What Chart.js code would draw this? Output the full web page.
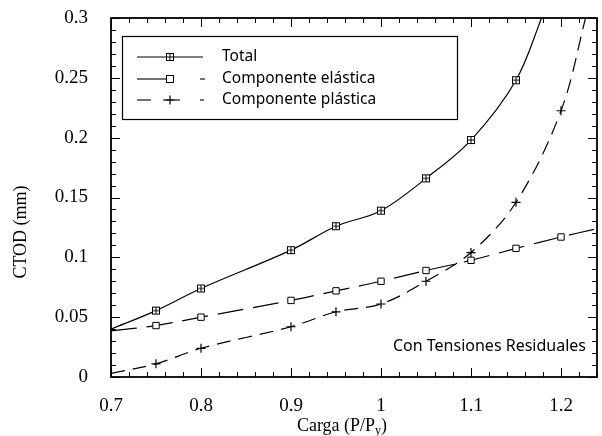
<!DOCTYPE html>
<html>
<head>
<meta charset="utf-8">
<script src="https://cdn.jsdelivr.net/npm/chart.js@4.4.1/dist/chart.umd.min.js"></script>
<style>
  html, body { margin: 0; padding: 0; background: #fff; }
  #wrap { width: 602px; height: 436px; }
</style>
</head>
<body>
<div id="wrap"><canvas id="myChart" width="602" height="436"></canvas></div>
<script>
// datos
let cargaTotal = [0.7, 0.75, 0.8, 0.9, 0.95, 1.0, 1.05, 1.1, 1.15, 1.18];
let ctodTotal = [0.040, 0.0555, 0.074, 0.106, 0.126, 0.139, 0.166, 0.198, 0.248, 0.303];
let cargaElastica = [0.7, 0.75, 0.8, 0.9, 0.95, 1.0, 1.05, 1.1, 1.15, 1.2, 1.24];
let ctodElastica = [0.0385, 0.043, 0.050, 0.064, 0.072, 0.080, 0.089, 0.0975, 0.1075, 0.117, 0.124];
let cargaPlastica = [0.7, 0.75, 0.8, 0.9, 0.95, 1.0, 1.05, 1.1, 1.15, 1.2, 1.228];
let ctodPlastica = [0.003, 0.011, 0.024, 0.042, 0.0545, 0.061, 0.080, 0.104, 0.146, 0.2225, 0.302];
let etiquetasX = ['0.7', '0.8', '0.9', '1', '1.1', '1.2'];
let etiquetasY = ['0', '0.05', '0.1', '0.15', '0.2', '0.25', '0.3'];
let nombres = ['Total', 'Componente elástica', 'Componente plástica'];

function puntos(xs, ys) {
    return xs.map((x, i) => ({ x: x, y: ys[i] }));
}
function radios(xs) {
    // sin marcador en los extremos
    return xs.map((x, i) => (i == 0 || i == xs.length - 1) ? 0 : 4.5);
}

// marcador cuadrado con cruz para "Total"
function marcadorTotal() {
    let c = document.createElement('canvas');
    c.width = 10; c.height = 10;
    let g = c.getContext('2d');
    g.fillStyle = '#fff';
    g.fillRect(1, 1, 8, 8);
    g.strokeStyle = '#000';
    g.lineWidth = 1;
    g.strokeRect(1.5, 1.5, 7, 7);
    g.beginPath();
    g.moveTo(5, 1.5); g.lineTo(5, 8.5);
    g.moveTo(1.5, 5); g.lineTo(8.5, 5);
    g.stroke();
    return c;
}
let iconoTotal = marcadorTotal();

function dibujarRect(g, x, y) {
    g.save();
    g.fillStyle = '#fff';
    g.strokeStyle = '#000';
    g.lineWidth = 1;
    g.fillRect(x - 4, y - 4, 8, 8);
    g.strokeRect(x - 3.5, y - 3.5, 7, 7);
    g.restore();
}
function dibujarCruz(g, x, y) {
    g.save();
    g.strokeStyle = '#000';
    g.lineWidth = 1.2;
    g.beginPath();
    g.moveTo(x - 4.5, y); g.lineTo(x + 4.5, y);
    g.moveTo(x, y - 4.5); g.lineTo(x, y + 4.5);
    g.stroke();
    g.restore();
}
function linea(g, x1, x2, y) {
    g.beginPath();
    g.moveTo(x1, y); g.lineTo(x2, y);
    g.stroke();
}

// marco, ticks hacia dentro, leyenda y textos
const extras = {
    id: 'extras',
    afterDraw(chart) {
        let g = chart.ctx;
        let a = chart.chartArea;
        let sx = chart.scales.x;
        let sy = chart.scales.y;
        g.save();
        g.setLineDash([]);
        g.strokeStyle = '#000';
        g.lineWidth = 1.8;
        g.strokeRect(a.left, a.top, a.right - a.left, a.bottom - a.top);

        g.lineWidth = 1;
        g.beginPath();
        for (let i = 0; i <= 27; i++) {
            let px = Math.round(sx.getPixelForValue(0.7 + i * 0.02)) + 0.5;
            let largo = (i % 5 == 0) ? 9 : 5;
            g.moveTo(px, a.bottom); g.lineTo(px, a.bottom - largo);
            g.moveTo(px, a.top); g.lineTo(px, a.top + largo);
        }
        for (let i = 0; i <= 30; i++) {
            let py = Math.round(sy.getPixelForValue(i * 0.01)) + 0.5;
            let largo = (i % 5 == 0) ? 9 : 5;
            g.moveTo(a.left, py); g.lineTo(a.left + largo, py);
            g.moveTo(a.right, py); g.lineTo(a.right - largo, py);
        }
        g.stroke();

        // leyenda
        g.fillStyle = '#fff';
        g.fillRect(122, 36, 335, 83);
        g.lineWidth = 1.2;
        g.strokeRect(122.5, 36.5, 335, 83);
        g.lineWidth = 1.1;
        let filas = [57, 79, 100];
        linea(g, 137, 203, filas[0]);
        g.drawImage(iconoTotal, 165, filas[0] - 5);
        linea(g, 137, 166, filas[1]);
        dibujarRect(g, 170, filas[1]);
        linea(g, 200, 205, filas[1]);
        linea(g, 137, 151, filas[2]);
        linea(g, 163, 180, filas[2]);
        dibujarCruz(g, 170, filas[2]);
        linea(g, 200, 204, filas[2]);
        g.fillStyle = '#000';
        g.font = '15.5px "Noto Sans"';
        g.textAlign = 'left';
        g.textBaseline = 'middle';
        filas.forEach((y, i) => g.fillText(nombres[i], 222, y));

        g.font = '16px "Noto Sans"';
        g.textAlign = 'right';
        g.fillText('Con Tensiones Residuales', 586, 346);

        // titulos de ejes
        g.font = '18px "Liberation Serif"';
        g.textAlign = 'left';
        g.textBaseline = 'alphabetic';
        let t1 = 'Carga (P/P';
        let w1 = g.measureText(t1).width;
        g.font = '12px "Liberation Serif"';
        let w2 = g.measureText('y').width;
        g.font = '18px "Liberation Serif"';
        let w3 = g.measureText(')').width;
        let x0 = 342 - (w1 + w2 + w3) / 2;
        g.fillText(t1, x0, 431);
        g.font = '12px "Liberation Serif"';
        g.fillText('y', x0 + w1, 434);
        g.font = '18px "Liberation Serif"';
        g.fillText(')', x0 + w1 + w2, 431);

        g.translate(21, 232);
        g.rotate(-Math.PI / 2);
        g.textAlign = 'center';
        g.textBaseline = 'middle';
        g.fillText('CTOD (mm)', 0, 0);
        g.restore();
    }
};

var ctx = document.getElementById('myChart').getContext('2d');
var myChart = new Chart(ctx, {
    type: 'line',
    data: {
        datasets: [{
            label: nombres[0],
            data: puntos(cargaTotal, ctodTotal),
            borderColor: '#000',
            borderWidth: 1.2,
            pointStyle: iconoTotal,
            pointRadius: radios(cargaTotal),
            tension: 0.35
        }, {
            label: nombres[1],
            data: puntos(cargaElastica, ctodElastica),
            borderColor: '#000',
            borderWidth: 1.2,
            borderDash: [26, 10],
            pointStyle: 'rect',
            pointBackgroundColor: '#fff',
            pointBorderColor: '#000',
            pointBorderWidth: 1,
            pointRadius: radios(cargaElastica),
            tension: 0.35
        }, {
            label: nombres[2],
            data: puntos(cargaPlastica, ctodPlastica),
            borderColor: '#000',
            borderWidth: 1.2,
            borderDash: [14, 8],
            pointStyle: 'cross',
            pointBorderColor: '#000',
            pointBorderWidth: 1.2,
            pointRadius: radios(cargaPlastica),
            tension: 0.35
        }]
    },
    options: {
        responsive: false,
        animation: false,
        layout: { padding: { top: 18, right: 5, left: 0, bottom: 0 } },
        plugins: {
            legend: { display: false },
            tooltip: { enabled: false }
        },
        scales: {
            x: {
                type: 'linear',
                min: 0.7,
                max: 1.24,
                afterBuildTicks: s => { s.ticks = etiquetasX.map(t => ({ value: Number(t) })); },
                afterFit: s => { s.height = 59; s.paddingLeft = 0; s.paddingRight = 0; },
                grid: { display: false, drawTicks: false },
                border: { display: false },
                ticks: {
                    color: '#000',
                    padding: 18,
                    maxRotation: 0,
                    font: { family: 'Liberation Serif', size: 19 },
                    callback: (v, i) => etiquetasX[i]
                }
            },
            y: {
                min: 0,
                max: 0.3,
                afterBuildTicks: s => { s.ticks = etiquetasY.map(t => ({ value: Number(t) })); },
                afterFit: s => { s.width = 111; s.paddingTop = 0; s.paddingBottom = 0; },
                grid: { display: false, drawTicks: false },
                border: { display: false },
                ticks: {
                    color: '#000',
                    padding: 23,
                    font: { family: 'Liberation Serif', size: 19 },
                    callback: (v, i) => etiquetasY[i]
                }
            }
        }
    },
    plugins: [extras]
});
</script>
</body>
</html>
